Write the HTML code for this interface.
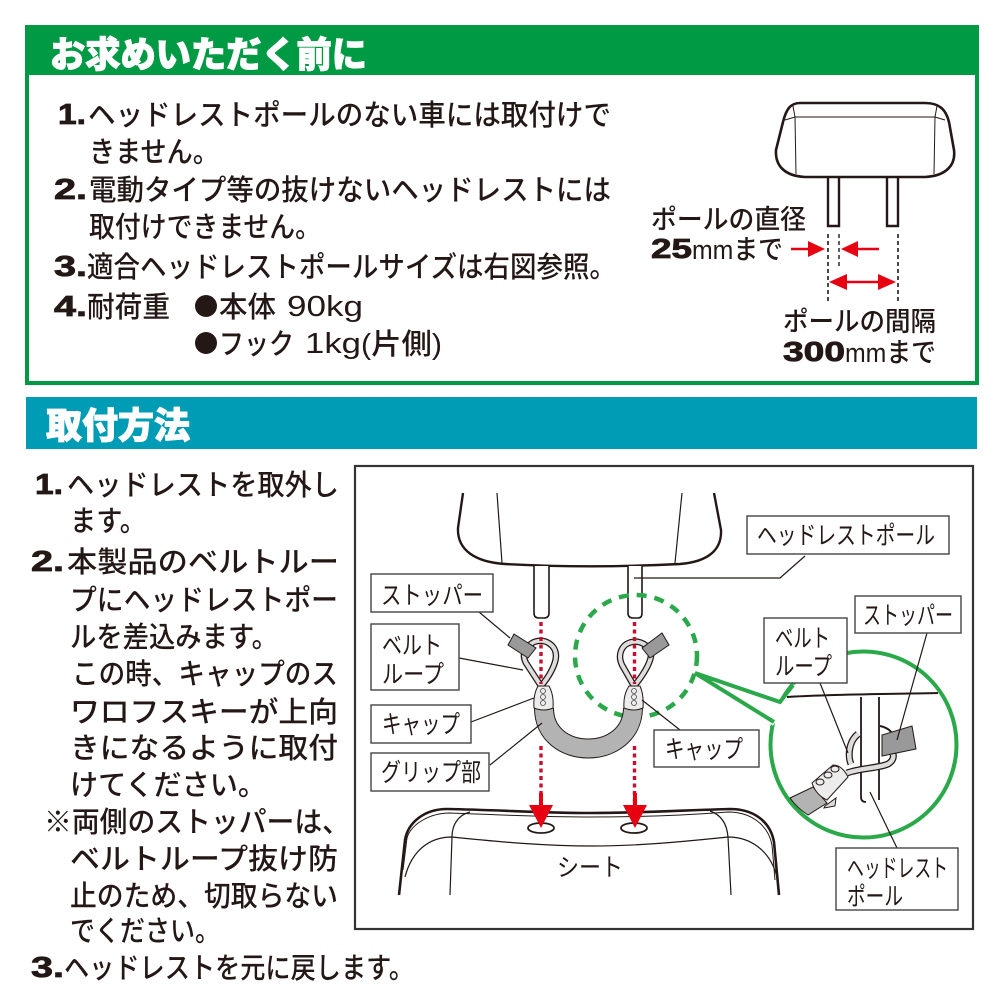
<!DOCTYPE html>
<html lang="ja"><head><meta charset="utf-8">
<style>
html,body{margin:0;padding:0;background:#fff;width:1000px;height:1000px;overflow:hidden}
svg{display:block}
text{font-family:"Liberation Sans","Noto Sans CJK JP",sans-serif;fill:#231815}
.b{font-size:29px;font-weight:500}
.n{font-size:29px;font-weight:700;stroke:#231815;stroke-width:.8px}
.l{font-size:25px;font-weight:400}
.g{font-size:27px;font-weight:500}
.k{font-size:28px;font-weight:700;stroke:#231815;stroke-width:.8px}
.box{fill:#fff;stroke:#444;stroke-width:1.4}
.ln{fill:none;stroke:#231815;stroke-width:1.2}
</style></head><body>
<svg width="1000" height="1000" viewBox="0 0 1000 1000" xmlns="http://www.w3.org/2000/svg">
<rect x="27" y="27" width="950" height="356" fill="#fff" stroke="#009a44" stroke-width="4"/>
<rect x="25" y="25" width="954" height="50" fill="#009a44"/>
<text x="50" y="67" font-size="36" font-weight="900" style="fill:#fff;stroke:#fff;stroke-width:1px" textLength="317" lengthAdjust="spacingAndGlyphs">お求めいただく前に</text>
<text class="n" x="58" y="124" textLength="28" lengthAdjust="spacingAndGlyphs">1.</text>
<text class="b" x="88" y="125" textLength="523" lengthAdjust="spacingAndGlyphs">ヘッドレストポールのない車には取付けで</text>
<text class="b" x="89" y="162" textLength="130" lengthAdjust="spacingAndGlyphs">きません。</text>
<text class="n" x="54" y="199" textLength="33" lengthAdjust="spacingAndGlyphs">2.</text>
<text class="b" x="89" y="200" textLength="522" lengthAdjust="spacingAndGlyphs">電動タイプ等の抜けないヘッドレストには</text>
<text class="b" x="89" y="237" textLength="232" lengthAdjust="spacingAndGlyphs">取付けできません。</text>
<text class="n" x="54" y="276" textLength="33" lengthAdjust="spacingAndGlyphs">3.</text>
<text class="b" x="87" y="277" textLength="529" lengthAdjust="spacingAndGlyphs">適合ヘッドレストポールサイズは右図参照。</text>
<text class="n" x="54" y="316" textLength="33" lengthAdjust="spacingAndGlyphs">4.</text>
<text class="b" x="87" y="317" textLength="83" lengthAdjust="spacingAndGlyphs">耐荷重</text>
<circle cx="206" cy="306" r="11" fill="#231815"/>
<text class="b" x="219" y="317" textLength="57" lengthAdjust="spacingAndGlyphs">本体</text>
<text class="b" x="287" y="316" textLength="76" lengthAdjust="spacingAndGlyphs">90kg</text>
<circle cx="206" cy="343" r="11" fill="#231815"/>
<text class="b" x="219" y="354" textLength="75" lengthAdjust="spacingAndGlyphs">フック</text>
<text class="b" x="305" y="353" textLength="56" lengthAdjust="spacingAndGlyphs">1kg</text>
<text class="b" x="361" y="354" textLength="81" lengthAdjust="spacingAndGlyphs">(片側)</text>

<!-- top right headrest -->
<path d="M800 103 H925 C940 103 946 110 949 122 L954 150 C956 166 945 176 925 177 H805 C785 176 775 166 776 150 L783 122 C786 110 790 103 800 103Z" fill="#fff" stroke="#231815" stroke-width="2.6"/>
<path d="M795 117 L796 174 M935 117 L934 174 M795 117 H935 M785 120 L795 117 L793 106 M945 120 L935 117 L937 106" fill="none" stroke="#231815" stroke-width="1"/>
<path d="M828 178 V226 H839 V178 M887 178 V226 H898 V178" fill="none" stroke="#231815" stroke-width="2.4"/>
<path d="M828 234 V301 M898 234 V301" stroke="#231815" stroke-width="1.6" stroke-dasharray="4 3" fill="none"/>
<path d="M839 234 V267" stroke="#231815" stroke-width="1.4" stroke-dasharray="4 3" fill="none"/>
<path d="M791 249 H812 M855 249 H879 M845 282 H882" stroke="#e60012" stroke-width="2.6" fill="none"/>
<path d="M808 241 L825 249 L808 257Z M858 241 L841 249 L858 257Z M847 274 L829 282 L847 290Z M878 274 L896 282 L878 290Z" fill="#e60012"/>
<text class="g" x="651" y="229" textLength="155" lengthAdjust="spacingAndGlyphs">ポールの直径</text>
<text class="k" x="651" y="258" textLength="41" lengthAdjust="spacingAndGlyphs">25</text>
<text class="g" x="692" y="259" textLength="91" lengthAdjust="spacingAndGlyphs">mmまで</text>
<text class="g" x="783" y="331" textLength="153" lengthAdjust="spacingAndGlyphs">ポールの間隔</text>
<text class="k" x="783" y="361" textLength="62" lengthAdjust="spacingAndGlyphs">300</text>
<text class="g" x="845" y="362" textLength="91" lengthAdjust="spacingAndGlyphs">mmまで</text>

<!-- section 2 -->
<rect x="26" y="397" width="951" height="52" fill="#009bb4"/>
<text x="46" y="438" font-size="36" font-weight="900" style="fill:#fff;stroke:#fff;stroke-width:1px" textLength="144" lengthAdjust="spacingAndGlyphs">取付方法</text>

<text class="n" x="35" y="494" textLength="28" lengthAdjust="spacingAndGlyphs">1.</text>
<text class="b" x="67" y="495" textLength="272" lengthAdjust="spacingAndGlyphs">ヘッドレストを取外し</text>
<text class="b" x="70" y="531" textLength="76" lengthAdjust="spacingAndGlyphs">ます。</text>
<text class="n" x="31" y="571" textLength="33" lengthAdjust="spacingAndGlyphs">2.</text>
<text class="b" x="67" y="572" textLength="272" lengthAdjust="spacingAndGlyphs">本製品のベルトルー</text>
<text class="b" x="70" y="610" textLength="268" lengthAdjust="spacingAndGlyphs">プにヘッドレストポー</text>
<text class="b" x="70" y="647" textLength="208" lengthAdjust="spacingAndGlyphs">ルを差込みます。</text>
<text class="b" x="72" y="684" textLength="266" lengthAdjust="spacingAndGlyphs">この時、キャップのス</text>
<text class="b" x="70" y="722" textLength="268" lengthAdjust="spacingAndGlyphs">ワロフスキーが上向</text>
<text class="b" x="70" y="758" textLength="268" lengthAdjust="spacingAndGlyphs">きになるように取付</text>
<text class="b" x="70" y="795" textLength="196" lengthAdjust="spacingAndGlyphs">けてください。</text>
<text class="b" x="44" y="832" textLength="306" lengthAdjust="spacingAndGlyphs">※両側のストッパーは、</text>
<text class="b" x="70" y="869" textLength="268" lengthAdjust="spacingAndGlyphs">ベルトループ抜け防</text>
<text class="b" x="70" y="906" textLength="268" lengthAdjust="spacingAndGlyphs">止のため、切取らない</text>
<text class="b" x="70" y="941" textLength="150" lengthAdjust="spacingAndGlyphs">でください。</text>
<text class="n" x="31" y="977" textLength="33" lengthAdjust="spacingAndGlyphs">3.</text>
<text class="b" x="64" y="978" textLength="350" lengthAdjust="spacingAndGlyphs">ヘッドレストを元に戻します。</text>

<!-- diagram frame -->
<rect x="355" y="466" width="618" height="463" fill="#fff" stroke="#333" stroke-width="2.2"/>

<!-- headrest lower -->
<path d="M463 493 L458 528 C457 550 475 562 505 564 C560 567 620 567 680 564 C705 562 722 552 721 530 L714 493" fill="none" stroke="#231815" stroke-width="2.4"/>
<path d="M497 493 L502 563 M682 493 L675 563" class="ln"/>
<path d="M534 566 V613 Q534 618 539 618 H544 Q549 618 549 613 V566 M628 566 V613 Q628 618 633 618 H638 Q642 618 642 613 V566" fill="#fff" stroke="#231815" stroke-width="1.6"/>

<!-- callout dashed circle -->
<circle cx="636" cy="656" r="61" fill="none" stroke="#2aa84a" stroke-width="4.5" stroke-dasharray="10 8"/>

<!-- loops -->
<g fill="none">
<path d="M541 686 L526 663 C521 654 526 646 534 642 C545 638 556 645 556 656 C556 664 549 677 541 686Z" stroke="#231815" stroke-width="6.5"/>
<path d="M541 686 L526 663 C521 654 526 646 534 642 C545 638 556 645 556 656 C556 664 549 677 541 686Z" stroke="#ddd" stroke-width="4"/>
<path d="M634 686 L622 665 C617 654 622 644 632 642 C642 640 652 648 651 656 C650 664 642 677 634 686Z" stroke="#231815" stroke-width="6.5"/>
<path d="M634 686 L622 665 C617 654 622 644 632 642 C642 640 652 648 651 656 C650 664 642 677 634 686Z" stroke="#ddd" stroke-width="4"/>
</g>

<!-- red dotted -->
<path d="M541 622 V684 M541 746 V806 M634.500 622 V684 M634.500 746 V806" stroke="#c8102e" stroke-width="3.4" stroke-dasharray="4 3.500" fill="none"/>
<path d="M541 793 V808 M635 793 V808" stroke="#e60012" stroke-width="4" fill="none"/>

<path d="M514 634 L536 648 L528 658 L508 645Z M662 633 L669 645 L650 658 L642 648Z" fill="#999" stroke="#231815" stroke-width="1"/>

<!-- grip -->
<path d="M544 708 C544 762 632 762 633 708" fill="none" stroke="#231815" stroke-width="20"/>
<path d="M544 708 C544 762 632 762 633 708" fill="none" stroke="#b3b3b3" stroke-width="18"/>
<!-- caps -->
<g fill="#ececec" stroke="#231815" stroke-width="1">
<path d="M538 686 H549 Q554 695 553 708 Q544 712 534 708 Q533 695 538 686Z"/>
<path d="M629 686 H640 Q644 695 643 708 Q634 712 624 708 Q623 695 629 686Z"/>
</g>
<g fill="none" stroke="#444" stroke-width=".8">
<circle cx="543" cy="691" r="2.500"/><circle cx="543" cy="697" r="2.500"/><circle cx="543" cy="703" r="2.500"/>
<circle cx="634" cy="691" r="2.500"/><circle cx="634" cy="697" r="2.500"/><circle cx="634" cy="703" r="2.500"/>
</g>

<!-- seat -->
<path d="M399 895 L405 840 C408 822 425 809 447 809 C500 810 545 813 590 813 C640 813 690 810 730 809 C752 809 770 820 774 842 L779 895" fill="none" stroke="#231815" stroke-width="2.6"/>
<path d="M403 870 L407 838 C411 824 430 813 450 813 C500 815 545 817 590 817 C640 817 690 815 728 812 C750 812 768 824 772 845 L775 880" fill="none" stroke="#231815" stroke-width="1"/>
<path d="M405 877 C412 850 430 837 452 837 C500 842 545 846 593 846 C640 846 690 841 728 837 C750 837 770 850 777 877" class="ln"/>
<path d="M450 895 L452 837 C452 825 458 815 470 812 M731 895 L728 837 C727 825 722 815 710 811" class="ln"/>
<ellipse cx="541" cy="828" rx="13" ry="5" fill="#fff" stroke="#231815" stroke-width="1.8"/>
<ellipse cx="634" cy="828" rx="13" ry="5" fill="#fff" stroke="#231815" stroke-width="1.8"/>
<path d="M529 805 H553 L541 828Z M623 805 H647 L635 828Z" fill="#e60012"/>
<text x="557" y="876" style="font-size:25px" textLength="66" lengthAdjust="spacingAndGlyphs">シート</text>

<!-- zoom callout -->
<circle cx="863.500" cy="744.500" r="93" fill="#fff" stroke="#2aa84a" stroke-width="4"/>
<path d="M772 725 L695 673 L780 702 L794 684 L800 700 L772 726Z" fill="#fff" stroke="none"/>
<path d="M774 722 L695 673 L780 702 L793 685" fill="none" stroke="#2aa84a" stroke-width="4"/>
<path d="M787 697 C830 694 900 694 938 693" fill="none" stroke="#231815" stroke-width="2"/>
<path d="M858 734 C848 742 848 757 851 764" fill="none" stroke="#231815" stroke-width="7"/>
<path d="M858 734 C848 742 848 757 851 764" fill="none" stroke="#ddd" stroke-width="4.500"/>
<path d="M861 697 V797 Q861 802 866 802 M879 697 V800" fill="#fff" stroke="#231815" stroke-width="1.8"/>
<rect x="862" y="698" width="16" height="100" fill="#fff"/>
<path d="M880 726 C890 728 895 735 894 740" fill="none" stroke="#231815" stroke-width="2"/>
<path d="M847 773 C860 768 880 768 888 764 C893 761 894 757 893 754" fill="none" stroke="#231815" stroke-width="7"/>
<path d="M847 773 C860 768 880 768 888 764 C893 761 894 757 893 754" fill="none" stroke="#ddd" stroke-width="4.500"/>
<path d="M882 735 L912 726 L916 749 L882 756Z" fill="#999" stroke="#231815" stroke-width="1"/>
<path d="M790 798 L813 787 L827 803 L808 815 Q797 808 790 798Z" fill="#b3b3b3" stroke="#231815" stroke-width="1"/>
<path d="M812 783 L833 765 Q842 765 848 777 L827 800 Q816 795 812 783Z" fill="#ececec" stroke="#231815" stroke-width="1"/>
<path d="M825 806 L836 798 L835 806 L824 808Z" fill="#ddd" stroke="#231815" stroke-width="1"/>
<g fill="none" stroke="#231815" stroke-width="1"><ellipse cx="820" cy="782" rx="4" ry="3"/><ellipse cx="828" cy="775" rx="4" ry="3"/><ellipse cx="835" cy="769" rx="4" ry="3"/></g>

<!-- leaders -->
<path d="M479 612 L510 638 M459 658 L523 670 M471 722 L534 698 M490 765 L542 723 M680 730 L642 700 M805 556 L780 578 H634 M820 683 L848 753 M927 633 L897 740 M870 792 L897 848" class="ln"/>

<!-- label boxes -->
<rect class="box" x="371" y="574" width="122" height="38"/>
<text class="l" x="381" y="604" textLength="102" lengthAdjust="spacingAndGlyphs">ストッパー</text>
<rect class="box" x="371" y="624" width="88" height="66"/>
<text class="l" x="382" y="654" textLength="60" lengthAdjust="spacingAndGlyphs">ベルト</text>
<text class="l" x="382" y="683" textLength="62" lengthAdjust="spacingAndGlyphs">ループ</text>
<rect class="box" x="371" y="705" width="100" height="38"/>
<text class="l" x="382" y="733" textLength="78" lengthAdjust="spacingAndGlyphs">キャップ</text>
<rect class="box" x="371" y="753" width="118" height="38"/>
<text class="l" x="381" y="781" textLength="100" lengthAdjust="spacingAndGlyphs">グリップ部</text>
<rect class="box" x="654" y="730" width="105" height="37"/>
<text class="l" x="665" y="758" textLength="78" lengthAdjust="spacingAndGlyphs">キャップ</text>
<rect class="box" x="747" y="516" width="202" height="38"/>
<text class="l" x="757" y="544" textLength="178" lengthAdjust="spacingAndGlyphs">ヘッドレストポール</text>
<rect class="box" x="855" y="596" width="106" height="37"/>
<text class="l" x="863" y="624" textLength="90" lengthAdjust="spacingAndGlyphs">ストッパー</text>
<rect class="box" x="764" y="618" width="83" height="65"/>
<text class="l" x="775" y="647" textLength="55" lengthAdjust="spacingAndGlyphs">ベルト</text>
<text class="l" x="775" y="675" textLength="57" lengthAdjust="spacingAndGlyphs">ループ</text>
<rect class="box" x="836" y="848" width="122" height="62"/>
<text class="l" x="847" y="877" textLength="101" lengthAdjust="spacingAndGlyphs">ヘッドレスト</text>
<text class="l" x="847" y="905" textLength="56" lengthAdjust="spacingAndGlyphs">ポール</text>
</svg>
</body></html>
